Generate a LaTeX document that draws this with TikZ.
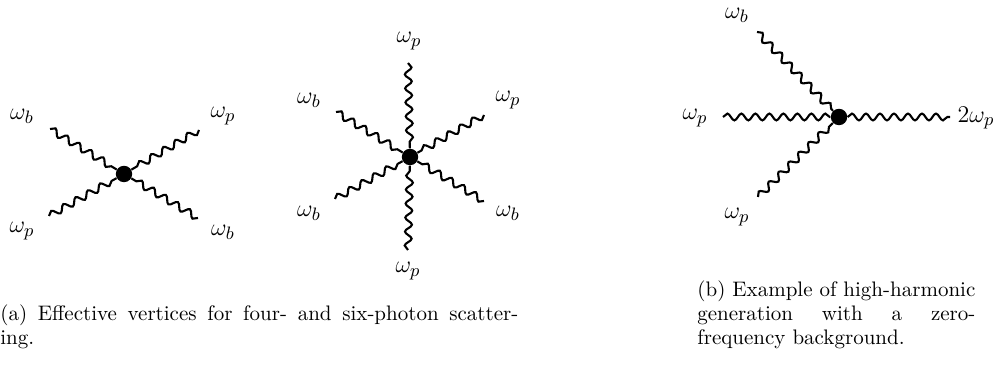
\documentclass[tikz,border=0pt]{standalone}
\usetikzlibrary{decorations.pathmorphing}
\begin{document}
\begin{tikzpicture}[x=0.5pt,y=-0.5pt,
  photon/.style={decorate, decoration={snake, amplitude=1.7pt, segment length=7pt}, line width=1.05pt},
  vtx/.style={circle, fill=black, inner sep=0pt, minimum size=8.2pt},
  lbl/.style={font=\fontsize{13}{15}\selectfont, inner sep=1pt},
  captxt/.style={anchor=base west, inner sep=0pt, font=\fontsize{10.5}{12.5}\selectfont}]
\useasboundingbox (0,0) rectangle (1002,367);

% ---- four-photon vertex
\node[vtx] (v1) at (124,174) {};
\coordinate (a1) at (50,129);
\coordinate (a2) at (199,130);
\coordinate (a3) at (49,216);
\coordinate (a4) at (198,218);
\draw[photon] (a1) -- (v1);
\draw[photon] (a2) -- (v1);
\draw[photon] (a3) -- (v1);
\draw[photon] (a4) -- (v1);
\node[lbl] (la1) at (22,116) {$\omega_b$};
\node[lbl] (la2) at (223,116) {$\omega_p$};
\node[lbl] (la3) at (22,231) {$\omega_p$};
\node[lbl] (la4) at (223,232) {$\omega_b$};

% ---- six-photon vertex
\node[vtx] (v2) at (410,157) {};
\coordinate (b1) at (408,63);
\coordinate (b2) at (336,112);
\coordinate (b3) at (484,115);
\coordinate (b4) at (335,199);
\coordinate (b5) at (484,201);
\coordinate (b6) at (408,250);
\draw[photon] (b1) -- (v2);
\draw[photon] (b2) -- (v2);
\draw[photon] (b3) -- (v2);
\draw[photon] (b4) -- (v2);
\draw[photon] (b5) -- (v2);
\draw[photon] (b6) -- (v2);
\node[lbl] (lb1) at (409,41) {$\omega_p$};
\node[lbl] (lb2) at (309,100) {$\omega_b$};
\node[lbl] (lb3) at (508,100) {$\omega_p$};
\node[lbl] (lb4) at (309,213) {$\omega_b$};
\node[lbl] (lb5) at (508,213) {$\omega_b$};
\node[lbl] (lb6) at (408,271) {$\omega_p$};

% ---- high-harmonic generation
\node[vtx] (v3) at (839,117) {};
\coordinate (c1) at (757,32);
\coordinate (c2) at (723,117);
\coordinate (c3) at (758,197);
\coordinate (c4) at (950,117);
\draw[photon] (c1) -- (v3);
\draw[photon] (c2) -- (v3);
\draw[photon] (c3) -- (v3);
\draw[photon] (v3) -- (c4);
\node[lbl] (lc1) at (737,15) {$\omega_b$};
\node[lbl] (lc2) at (695,118) {$\omega_p$};
\node[lbl] (lc3) at (737,217) {$\omega_p$};
\node[lbl] (lc4) at (976,118) {$2\omega_p$};

% ---- captions
\node[captxt] (capa1) at (0,321) {\makebox[259pt][s]{(a) Effective vertices for four- and six-photon scatter-}};
\node[captxt] (capa2) at (0,345) {ing.};
\node[captxt] (capb1) at (697,297) {\makebox[139pt][s]{(b) Example of high-harmonic}};
\node[captxt] (capb2) at (697,321) {\makebox[139pt][s]{generation with a zero-}};
\node[captxt] (capb3) at (697,345) {frequency background.};
\end{tikzpicture}
\end{document}
